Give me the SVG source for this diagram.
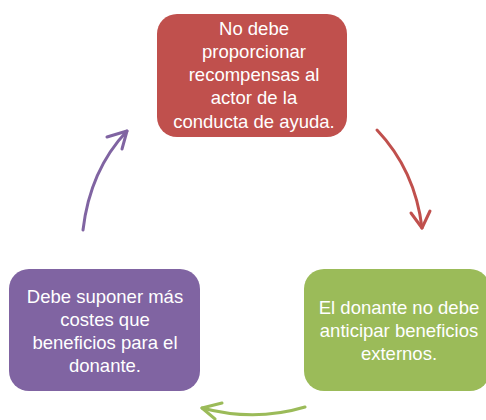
<svg xmlns="http://www.w3.org/2000/svg" width="486" height="420" viewBox="0 0 486 420">
<style>
.t{font-family:"Liberation Sans",Arial,sans-serif;font-size:18.5px;fill:#ffffff;text-anchor:middle}
.c{fill:none;stroke-width:3;stroke-linecap:round;stroke-linejoin:round}
</style>
<rect width="486" height="420" fill="#ffffff"/>
<g id="connectors">
<path class="c" stroke="#C0504D" d="M377,130 Q415,170 422,228"/>
<path class="c" stroke="#C0504D" d="M411,213 L422,228 L430,211"/>
<path class="c" stroke="#9BBB59" d="M305,407 Q255,422 202,408"/>
<path class="c" stroke="#9BBB59" d="M222,403 L202,408 L215,419"/>
<path class="c" stroke="#8064A2" d="M83,230 Q90,170 127,131"/>
<path class="c" stroke="#8064A2" d="M107,137 L127,131 L122,149"/>
</g>
<g id="node-top">
<rect x="157" y="14" width="190" height="123" rx="20" fill="#C0504D"/>
<text class="t" x="254" y="35">No debe</text>
<text class="t" x="254" y="58">proporcionar</text>
<text class="t" x="254" y="81">recompensas al</text>
<text class="t" x="254" y="104">actor de la</text>
<text class="t" x="254" y="128">conducta de ayuda.</text>
</g>
<g id="node-right">
<rect x="304" y="269" width="186" height="122" rx="20" fill="#9BBB59"/>
<text class="t" x="399" y="314">El donante no debe</text>
<text class="t" x="399" y="337">anticipar beneficios</text>
<text class="t" x="399" y="360">externos.</text>
</g>
<g id="node-left">
<rect x="9" y="269" width="191" height="122" rx="20" fill="#8064A2"/>
<text class="t" x="105" y="303">Debe suponer más</text>
<text class="t" x="105" y="326">costes que</text>
<text class="t" x="105" y="349">beneficios para el</text>
<text class="t" x="105" y="372">donante.</text>
</g>
</svg>
